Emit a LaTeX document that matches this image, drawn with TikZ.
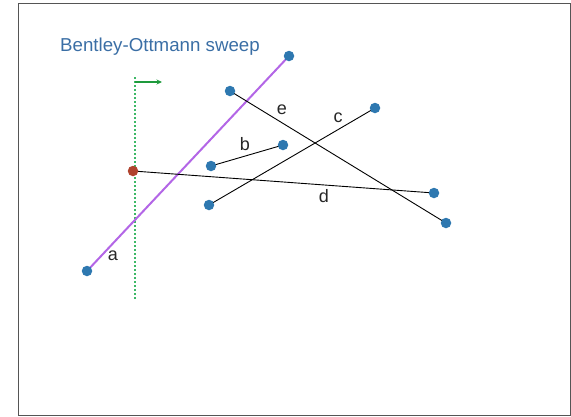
\documentclass[tikz,border=0pt]{standalone}
\usepackage{fontspec}
\setmainfont{Liberation Sans}
\usetikzlibrary{arrows.meta}
\definecolor{dotblue}{HTML}{2E78B0}
\definecolor{dotred}{HTML}{B0432E}
\definecolor{segpurple}{HTML}{B366E6}
\definecolor{titleblue}{HTML}{3A6EA5}
\definecolor{sweepgreen}{HTML}{3DB866}
\definecolor{arrowgreen}{HTML}{1E9A3C}
\definecolor{framegray}{HTML}{555555}
\tikzset{
  endpt/.style={circle,fill=dotblue,inner sep=0pt,minimum size=10.5pt},
  eventpt/.style={circle,fill=dotred,inner sep=0pt,minimum size=10.5pt},
  seg/.style={black,line width=0.9pt},
  asegment/.style={segpurple,line width=2pt},
  lbl/.style={font=\fontsize{18}{20}\selectfont,text=black!85,inner sep=0pt},
}
\begin{document}
\begin{tikzpicture}[x=1pt,y=-1pt]
\useasboundingbox (0,0) rectangle (571,416);
\draw[framegray,line width=1pt] (18,3.5) rectangle (570,415);
\node[text=titleblue,font=\fontsize{18.7}{21}\selectfont,anchor=west,inner sep=0pt] (title) at (60,47) {Bentley-Ottmann sweep};
% sweep line
\coordinate (s1) at (135,77);
\coordinate (s2) at (135,300);
\draw[sweepgreen,line width=1.1pt,dash pattern=on 2pt off 2pt] (s1) -- (s2);
\coordinate (ar1) at (135,82);
\coordinate (ar2) at (162,82);
\draw[arrowgreen,line width=1.1pt,-{Stealth[length=5.5pt,width=5pt]}] (ar1) -- (ar2);
% endpoints (coordinates)
\coordinate (a1) at (87,271);
\coordinate (a2) at (289,56);
\coordinate (e1) at (230,91);
\coordinate (e2) at (446,223);
\coordinate (c1) at (209,205);
\coordinate (c2) at (375,108);
\coordinate (b1) at (211,166);
\coordinate (b2) at (283,145);
\coordinate (d1) at (133,171);
\coordinate (d2) at (434,193);
% segments
\draw[asegment] (a1) -- (a2);
\draw[seg] (e1) -- (e2);
\draw[seg] (c1) -- (c2);
\draw[seg] (b1) -- (b2);
\draw[seg] (d1) -- (d2);
% dots on top
\foreach \p in {a1,a2,e1,e2,c1,c2,b1,b2,d2}{\node[endpt] (dot\p) at (\p) {};}
\node[eventpt] (dotd1) at (d1) {};
% labels
\node[lbl] (la) at (113,256) {a};
\node[lbl] (le) at (282,110) {e};
\node[lbl] (lc) at (338,118) {c};
\node[lbl] (lb) at (245,144) {b};
\node[lbl] (ld) at (324,196) {d};
\end{tikzpicture}
\end{document}
